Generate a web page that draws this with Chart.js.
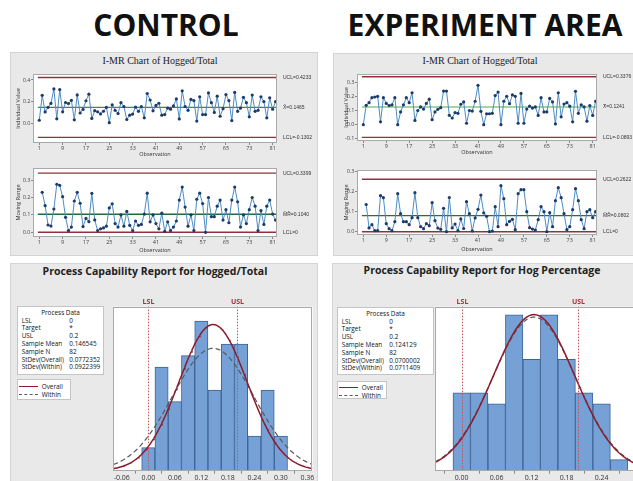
<!DOCTYPE html>
<html>
<head>
<meta charset="utf-8">
<script src="https://cdn.jsdelivr.net/npm/chart.js@4.4.0/dist/chart.umd.min.js"></script>
<style>
  html, body { margin: 0; padding: 0; width: 633px; height: 481px; overflow: hidden; background: #fff; }
  .big { position: absolute; top: 6px; font: bold 30px "Open Sans", sans-serif; color: #111; text-align: center; line-height: 38px; white-space: nowrap; }
  .panel { position: absolute; background: #e9e9e9; border: 1px solid #d4d4d4; box-sizing: border-box; }
  .imr-title { position: absolute; font: 10px "Liberation Serif", serif; color: #222; text-align: center; white-space: nowrap; }
  .pc-title { position: absolute; font: bold 10.5px "Open Sans", sans-serif; color: #222; text-align: center; white-space: nowrap; }
  canvas { position: absolute; }
  .box { position: absolute; background: #fff; border: 1px solid #c4c4c4; box-sizing: border-box; font: 6.4px "Open Sans", sans-serif; color: #111; }
  .box .hd { position: absolute; left: 0; right: 0; text-align: center; }
  .box .lb, .box .vl { position: absolute; white-space: nowrap; }
  .lg { position: absolute; white-space: nowrap; }
  .sw { position: absolute; height: 0; }
</style>
</head>
<body>
<div class="big" style="left:0;width:332px;">CONTROL</div>
<div class="big" style="left:335px;width:300px;">EXPERIMENT AREA</div>

<div class="panel" style="left:10px;top:52px;width:308px;height:204px;"></div>
<div class="panel" style="left:333px;top:53px;width:305px;height:203px;"></div>
<div class="panel" style="left:10px;top:263px;width:308px;height:225px;"></div>
<div class="panel" style="left:332px;top:263px;width:306px;height:225px;"></div>

<div class="imr-title" style="left:60px;width:200px;top:55px;">I-MR Chart of Hogged/Total</div>
<div class="imr-title" style="left:380px;width:200px;top:55px;">I-MR Chart of Hogged/Total</div>

<canvas id="ctrlI" width="308" height="94" style="left:10px;top:66px;"></canvas>
<canvas id="ctrlMR" width="308" height="92" style="left:10px;top:162px;"></canvas>
<canvas id="expI" width="300" height="92" style="left:333px;top:66px;"></canvas>
<canvas id="expMR" width="300" height="91" style="left:333px;top:163px;"></canvas>

<div class="pc-title" style="left:5px;width:300px;top:264px;">Process Capability Report for Hogged/Total</div>
<div class="pc-title" style="left:332px;width:300px;top:263px;">Process Capability Report for Hog Percentage</div>

<div class="box" id="ctrlBox" style="left:17px;top:306px;width:87px;height:69px;"></div>
<div class="box" id="expBox" style="left:337px;top:307px;width:97px;height:68px;"></div>
<div class="box" id="ctrlLeg" style="left:17px;top:379px;width:54px;height:21px;"></div>
<div class="box" id="expLeg" style="left:337px;top:381px;width:50px;height:18px;"></div>

<canvas id="ctrlHist" width="210" height="191" style="left:108px;top:290px;"></canvas>
<canvas id="expHist" width="215" height="191" style="left:430px;top:290px;"></canvas>

<script>
// ---------- data ----------
const obsTicks = [1, 9, 17, 25, 33, 41, 49, 57, 65, 73, 81];

// CONTROL: individual values, obs 1..82
const ctrlInd = [
  0.028, 0.258, 0.105, 0.147, 0.183, 0.317, 0.041, 0.311, 0.106, 0.192,
  0.182, 0.212, 0.032, 0.262, 0.095, 0.128, 0.208, 0.269, 0.045, 0.116,
  0.106, 0.086, 0.111, 0.146, 0.006, 0.17, 0.12, 0.09, 0.19, 0.155,
  0.035, 0.075, 0.085, 0.15, 0.11, 0.155, 0.05, 0.275, 0.215, 0.115,
  0.165, 0.185, 0.075, 0.08, 0.14, 0.13, 0.16, 0.225, 0.04, 0.30,
  0.155, 0.12, 0.22, 0.21, 0.02, 0.245, 0.08, 0.08, 0.28, 0.19,
  0.10, 0.25, 0.065, 0.135, 0.265, 0.21, 0.025, 0.285, 0.11, 0.14,
  0.24, 0.19, 0.06, 0.26, 0.11, 0.12, 0.245, 0.2, 0.05, 0.235, 0.13, 0.2
];
// CONTROL: moving ranges, obs 2..82
const ctrlMR = [
  0.23, 0.153, 0.042, 0.036, 0.134, 0.276, 0.27, 0.205, 0.086,
  0.01, 0.03, 0.18, 0.23, 0.167, 0.033, 0.08, 0.061, 0.224, 0.071,
  0.01, 0.02, 0.025, 0.035, 0.14, 0.164, 0.05, 0.03, 0.10, 0.035,
  0.12, 0.04, 0.01, 0.065, 0.04, 0.045, 0.105, 0.225, 0.06, 0.10,
  0.05, 0.02, 0.11, 0.005, 0.06, 0.01, 0.03, 0.065, 0.185, 0.26,
  0.145, 0.035, 0.10, 0.01, 0.19, 0.225, 0.165, 0.0, 0.2, 0.09,
  0.09, 0.15, 0.185, 0.07, 0.13, 0.055, 0.185, 0.26, 0.175, 0.03,
  0.10, 0.05, 0.13, 0.2, 0.15, 0.01, 0.125, 0.045, 0.15, 0.185,
  0.105, 0.07
];
// EXPERIMENT: individual values, obs 1..82
const expInd = [
  0.0, 0.136, 0.155, 0.19, 0.195, 0.2, 0.02, 0.19, 0.15, 0.135,
  0.14, 0.19, 0.0, 0.09, 0.14, 0.19, 0.155, 0.225, 0.03, 0.10,
  0.125, 0.11, 0.15, 0.18, 0.035, 0.09, 0.108, 0.12, 0.237, 0.237,
  0.066, 0.047, 0.085, 0.08, 0.144, 0.16, 0.01, 0.10, 0.096, 0.165,
  0.277, 0.094, 0.0, 0.077, 0.077, 0.08, 0.205, 0.23, 0.0, 0.165,
  0.2, 0.148, 0.21, 0.2, 0.01, 0.22, 0.01, 0.11, 0.13, 0.117,
  0.125, 0.065, 0.19, 0.09, 0.09, 0.185, 0.16, 0.005, 0.225, 0.055,
  0.145, 0.155, 0.13, 0.02, 0.235, 0.08, 0.14, 0.125, 0.025, 0.135, 0.065, 0.165
];
// EXPERIMENT: moving ranges, obs 2..82
const expMR = [
  0.136, 0.019, 0.035, 0.005, 0.005, 0.18, 0.17, 0.04, 0.015,
  0.005, 0.05, 0.19, 0.09, 0.05, 0.05, 0.035, 0.07, 0.195, 0.07,
  0.025, 0.015, 0.04, 0.03, 0.145, 0.055, 0.018, 0.012, 0.117, 0.0,
  0.171, 0.019, 0.038, 0.005, 0.064, 0.016, 0.15, 0.09, 0.004, 0.069,
  0.112, 0.183, 0.094, 0.077, 0.0, 0.003, 0.125, 0.025, 0.23, 0.165,
  0.035, 0.052, 0.062, 0.01, 0.19, 0.21, 0.21, 0.10, 0.02, 0.013,
  0.008, 0.06, 0.125, 0.10, 0.0, 0.095, 0.025, 0.155, 0.22, 0.17,
  0.09, 0.01, 0.025, 0.11, 0.215, 0.155, 0.06, 0.015, 0.10, 0.11,
  0.07, 0.10
];

// control limits [UCL, centre, LCL]
const ctrlIndLimits = [0.4233, 0.1465, -0.1302];
const ctrlMRLimits = [0.3399, 0.1040, 0];
const expIndLimits = [0.3376, 0.1241, -0.0893];
const expMRLimits = [0.2622, 0.0802, 0];

const ctrlIndTicks = [0, 0.2, 0.4];
const ctrlMRTicks = [0, 0.1, 0.2, 0.3];
const expIndTicks = [-0.1, 0, 0.1, 0.2, 0.3];
const expMRTicks = [0, 0.1, 0.2, 0.3];

// histograms: bin centres and counts
const ctrlBins = [0, 0.03, 0.06, 0.09, 0.12, 0.15, 0.18, 0.21, 0.24, 0.27, 0.30];
const ctrlCounts = [2, 9, 6, 10, 13, 7, 11, 11, 3, 7, 3];
const expBins = [0, 0.03, 0.06, 0.09, 0.12, 0.15, 0.18, 0.21, 0.24, 0.27];
const expCounts = [7, 7, 6, 14, 10, 14, 10, 7, 6, 1];
const ctrlHistTicks = [-0.06, 0, 0.06, 0.12, 0.18, 0.24, 0.30, 0.36];
const expHistTicks = [0, 0.06, 0.12, 0.18, 0.24];

// process data
const pdLabels = ["LSL", "Target", "USL", "Sample Mean", "Sample N", "StDev(Overall)", "StDev(Within)"];
const ctrlPd = ["0", "*", "0.2", "0.146545", "82", "0.0772352", "0.0922399"];
const expPd = ["0", "*", "0.2", "0.124129", "82", "0.0700002", "0.0711409"];
const specLimits = [0, 0.2]; // LSL, USL
// fitted normal: mean, stdev overall, stdev within
const ctrlFit = [0.146545, 0.0772352, 0.0922399];
const expFit = [0.124129, 0.0700002, 0.0711409];
const sampleN = 82;
const binWidth = 0.03;

// ---------- drawing ----------
Chart.defaults.font.family = '"Open Sans", sans-serif';
Chart.defaults.animation = false;

const framePlugin = {
  id: 'frame',
  beforeDraw(chart) {
    const { ctx, chartArea: a } = chart;
    ctx.save();
    ctx.fillStyle = '#fff';
    ctx.fillRect(a.left, a.top, a.right - a.left, a.bottom - a.top);
    ctx.restore();
  },
  afterDraw(chart) {
    const { ctx, chartArea: a } = chart;
    ctx.save();
    ctx.strokeStyle = '#a9a9a9';
    ctx.lineWidth = 1;
    ctx.strokeRect(Math.round(a.left) + 0.5, Math.round(a.top) + 0.5, Math.round(a.right - a.left) - 1, Math.round(a.bottom - a.top) - 1);
    ctx.restore();
  }
};

function limitLabels(names, values) {
  return {
    id: 'limitLabels',
    afterDraw(chart) {
      const { ctx, chartArea: a } = chart;
      const y = chart.scales.y;
      ctx.save();
      ctx.font = '5px "Liberation Sans", sans-serif';
      ctx.fillStyle = '#333';
      ctx.textBaseline = 'middle';
      values.forEach((v, i) => {
        const txt = names[i] + '=' + (v === 0 ? '0' : v.toFixed(4));
        ctx.fillText(txt, a.right + 6, y.getPixelForValue(v));
      });
      ctx.restore();
    }
  };
}

function spcChart(id, o) {
  const colors = ['#93303f', o.centreColor, '#93303f'];
  const limitSets = o.limits.map((v, i) => ({
    data: [{ x: 0.5, y: v }, { x: 82.3, y: v }],
    borderColor: colors[i], borderWidth: 1.4, pointRadius: 0, order: 2
  }));
  return new Chart(document.getElementById(id), {
    type: 'line',
    data: {
      datasets: [{
        data: o.values.map((v, i) => ({ x: i + o.start, y: v })),
        borderColor: '#4d8cc4', borderWidth: 1, tension: 0,
        pointRadius: 1.6, pointBackgroundColor: '#1c3b69', pointBorderWidth: 0, order: 0
      }].concat(limitSets)
    },
    options: {
      responsive: false, events: [],
      layout: { padding: { left: 0, right: o.padRight, top: o.padTop, bottom: 0 } },
      plugins: { legend: { display: false }, tooltip: { enabled: false } },
      scales: {
        x: {
          type: 'linear', min: o.xMin, max: o.xMax,
          afterBuildTicks: s => { s.ticks = obsTicks.map(v => ({ value: v })); },
          afterFit: s => { s.height = o.xH; },
          grid: { drawOnChartArea: false, tickLength: 2, color: '#888' },
          border: { display: false },
          ticks: { font: { size: 5.5 }, color: '#444', padding: 0, maxRotation: 0, autoSkip: false, callback: v => String(v) },
          title: { display: true, text: 'Observation', font: { size: 5.5 }, color: '#333', padding: { top: 0, bottom: o.xTitlePad } }
        },
        y: {
          min: o.yMin, max: o.yMax,
          afterBuildTicks: s => { s.ticks = o.yTicks.map(v => ({ value: v })); },
          afterFit: s => { s.width = o.yW; },
          grid: { drawOnChartArea: false, tickLength: 2, color: '#888' },
          border: { display: false },
          ticks: { font: { size: 5.5 }, color: '#444', padding: 0.5, callback: v => v.toFixed(1) },
          title: { display: true, text: o.yTitle, font: { size: 5.5 }, color: '#333', padding: { top: o.yTitlePad, bottom: 0 } }
        }
      }
    },
    plugins: [framePlugin, limitLabels(o.names, o.limits)]
  });
}

spcChart('ctrlI', {
  values: ctrlInd, start: 1, limits: ctrlIndLimits, names: ['UCL', 'X\u0304', 'LCL'], centreColor: '#3c8c3c',
  xMin: -1.16, xMax: 82.5, yMin: -0.182, yMax: 0.455, yTicks: ctrlIndTicks,
  padTop: 8, padRight: 41, xH: 17, yW: 23, xTitlePad: 2.7, yTitlePad: 4.7, yTitle: 'Individual Value'
});
spcChart('ctrlMR', {
  values: ctrlMR, start: 2, limits: ctrlMRLimits, names: ['UCL', 'M\u0304R\u0304', 'LCL'], centreColor: '#1f6b35',
  xMin: -1.16, xMax: 82.5, yMin: -0.027, yMax: 0.3695, yTicks: ctrlMRTicks,
  padTop: 6, padRight: 41, xH: 17, yW: 23, xTitlePad: 0.7, yTitlePad: 4.7, yTitle: 'Moving Range'
});
spcChart('expI', {
  values: expInd, start: 1, limits: expIndLimits, names: ['UCL', 'X\u0304', 'LCL'], centreColor: '#86c886',
  xMin: -1.2, xMax: 82.5, yMin: -0.115, yMax: 0.357, yTicks: expIndTicks,
  padTop: 8, padRight: 36, xH: 17, yW: 24, xTitlePad: 2, yTitlePad: 10.4, yTitle: 'Individual Value'
});
spcChart('expMR', {
  values: expMR, start: 2, limits: expMRLimits, names: ['UCL', 'M\u0304R\u0304', 'LCL'], centreColor: '#2a6e3a',
  xMin: -1.2, xMax: 82.5, yMin: -0.0165, yMax: 0.3085, yTicks: expMRTicks,
  padTop: 7, padRight: 36, xH: 19, yW: 24, xTitlePad: 1.4, yTitlePad: 10.4, yTitle: 'Moving Range'
});

// fitted normal curve scaled to counts (from the process data parameters)
function normalCurve(mean, sd, x0, x1) {
  const pts = [];
  for (let x = x0; x <= x1 + 1e-9; x += 0.002) {
    const z = (x - mean) / sd;
    pts.push({ x: x, y: sampleN * binWidth * Math.exp(-0.5 * z * z) / (sd * Math.sqrt(2 * Math.PI)) });
  }
  return pts;
}

function specPlugin() {
  return {
    id: 'spec',
    afterDatasetsDraw(chart) {
      const { ctx, chartArea: a } = chart;
      const x = chart.scales.x;
      ctx.save();
      ctx.strokeStyle = '#c2505c';
      ctx.lineWidth = 1;
      ctx.setLineDash([1.5, 1.5]);
      ctx.font = 'bold 7px "Open Sans", sans-serif';
      ctx.fillStyle = '#a8303f';
      ctx.textAlign = 'center';
      ctx.textBaseline = 'middle';
      ['LSL', 'USL'].forEach((t, i) => {
        const px = Math.round(x.getPixelForValue(specLimits[i])) + 0.5;
        ctx.beginPath();
        ctx.moveTo(px, a.top);
        ctx.lineTo(px, a.bottom);
        ctx.stroke();
        ctx.fillText(t, px, a.top - 5);
      });
      ctx.restore();
    }
  };
}

function histChart(id, o) {
  return new Chart(document.getElementById(id), {
    type: 'bar',
    data: {
      datasets: [
        { type: 'line', data: normalCurve(o.fit[0], o.fit[1], o.xMin, o.xMax), borderColor: '#8b1d2e', borderWidth: 1.5, pointRadius: 0, tension: 0, order: 0 },
        { type: 'line', data: normalCurve(o.fit[0], o.fit[2], o.xMin, o.xMax), borderColor: '#5a5a5a', borderWidth: 1.2, borderDash: [5, 3], pointRadius: 0, tension: 0, order: 1 },
        { type: 'bar', data: o.bins.map((c, i) => ({ x: c, y: o.counts[i] })), backgroundColor: '#75a1d7', borderColor: '#3f6394', borderWidth: 1, barPercentage: 1, categoryPercentage: 1, grouped: false, order: 2 }
      ]
    },
    options: {
      responsive: false, events: [],
      layout: { padding: { left: o.padLeft, right: o.padRight, top: 16.7, bottom: 0 } },
      plugins: { legend: { display: false }, tooltip: { enabled: false } },
      scales: {
        x: {
          type: 'linear', offset: false, min: o.xMin, max: o.xMax,
          afterBuildTicks: s => { s.ticks = o.ticks.map(v => ({ value: v })); },
          afterFit: s => { s.height = 10.3; },
          grid: { drawOnChartArea: false, tickLength: 3, color: '#888' },
          border: { display: false },
          ticks: { font: { size: 7 }, color: '#333', padding: 0, maxRotation: 0, autoSkip: false, callback: v => v.toFixed(2) }
        },
        y: { display: false, min: 0, max: o.yMax }
      }
    },
    plugins: [framePlugin, specPlugin()]
  });
}

histChart('ctrlHist', {
  bins: ctrlBins, counts: ctrlCounts, fit: ctrlFit, ticks: ctrlHistTicks,
  xMin: -0.0792, xMax: 0.372, yMax: 14.26, padLeft: 5.3, padRight: 5.3
});
histChart('expHist', {
  bins: expBins, counts: expCounts, fit: expFit, ticks: expHistTicks,
  xMin: -0.0458, xMax: 0.30, yMax: 14.73, padLeft: 5, padRight: 8.4
});

// process data boxes and legends
function fillBox(id, values) {
  const box = document.getElementById(id);
  let html = '<div class="hd" style="top:1.8px;line-height:7.8px;">Process Data</div>';
  pdLabels.forEach((l, i) => {
    const top = 9.6 + i * 7.8;
    html += '<div class="lb" style="left:3.7px;top:' + top + 'px;line-height:7.8px;">' + l + '</div>';
    html += '<div class="vl" style="left:51.3px;top:' + top + 'px;line-height:7.8px;">' + values[i] + '</div>';
  });
  box.innerHTML = html;
}
fillBox('ctrlBox', ctrlPd);
fillBox('expBox', expPd);

function fillLegend(id, rowTops) {
  const box = document.getElementById(id);
  box.innerHTML =
    '<div class="sw" style="left:1px;width:19px;top:' + (rowTops[0] + 3.5) + 'px;border-top:1.5px solid #8b1d2e;"></div>' +
    '<div class="lg" style="left:23.7px;top:' + rowTops[0] + 'px;line-height:7.8px;">Overall</div>' +
    '<div class="sw" style="left:1px;width:19px;top:' + (rowTops[1] + 3.5) + 'px;border-top:1.3px dashed #5a5a5a;"></div>' +
    '<div class="lg" style="left:23.7px;top:' + rowTops[1] + 'px;line-height:7.8px;">Within</div>';
}
fillLegend('ctrlLeg', [2.5, 10.8]);
fillLegend('expLeg', [1.5, 9.8]);
</script>
</body>
</html>
